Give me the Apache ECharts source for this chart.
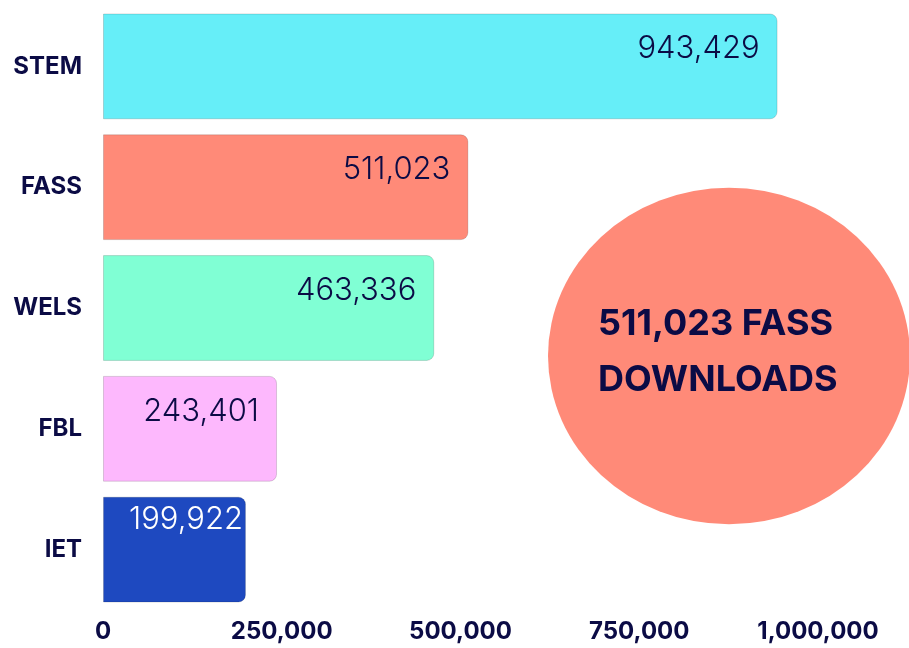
<!DOCTYPE html>
<html>
<head>
<meta charset="utf-8">
<script src="https://cdn.jsdelivr.net/npm/echarts@6/dist/echarts.min.js"></script>
<style>
  html, body { margin: 0; padding: 0; background: #fff; }
  #chart { width: 909px; height: 648px; }
</style>
</head>
<body>
<div id="chart"></div>
<script>
// faculties, top to bottom
var categories = ['STEM', 'FASS', 'WELS', 'FBL', 'IET'];
var downloads = [943429, 511023, 463336, 243401, 199922];
var barColors = ['#66eef8', '#ff8a78', '#80ffd4', '#fdb8fd', '#1e49c0'];
var xTicks = [0, 250000, 500000, 750000, 1000000];

var navy = '#0b0b45';
var fmt = function (v) { return Number(v).toLocaleString('en-US'); };

var chart = echarts.init(document.getElementById('chart'));

// the big callout uses the FASS figure
var hi = categories.indexOf('FASS');

var option = {
    backgroundColor: '#ffffff',
    animation: false,
    grid: { left: 103, right: 91, top: 6, bottom: 38 },
    xAxis: {
        type: 'value',
        min: xTicks[0],
        max: xTicks[xTicks.length - 1],
        interval: xTicks[1] - xTicks[0],
        splitLine: { show: false },
        axisLine: { show: false },
        axisTick: { show: false },
        axisLabel: {
            margin: 10,
            color: navy,
            fontFamily: 'Inter',
            fontWeight: 'bold',
            fontSize: 24,
            formatter: fmt
        }
    },
    yAxis: {
        type: 'category',
        inverse: true,
        data: categories,
        axisLine: { show: false },
        axisTick: { show: false },
        axisLabel: {
            margin: 21,
            color: navy,
            fontFamily: 'Inter',
            fontWeight: 'bold',
            fontSize: 24
        }
    },
    series: [{
        type: 'bar',
        barCategoryGap: '12.4%',
        data: downloads.map(function (v, i) {
            var item = {
                value: v,
                itemStyle: { color: barColors[i] }
            };
            if (i === downloads.length - 1) {
                // dark bar: white label, tucked in tighter
                item.label = { color: '#ffffff', distance: 3, offset: [0, 4] };
            }
            return item;
        }),
        itemStyle: {
            borderRadius: [0, 7, 7, 0],
            borderColor: 'rgba(0,0,0,0.15)',
            borderWidth: 1
        },
        label: {
            show: true,
            position: 'insideTopRight',
            distance: 18,
            offset: [0, 2],
            color: navy,
            fontFamily: 'Inter',
            fontWeight: 300,
            fontSize: 31,
            formatter: function (p) { return fmt(p.value); }
        }
    }],
    graphic: [{
        type: 'circle',
        x: 729,
        y: 356,
        scaleY: 0.93,
        shape: { cx: 0, cy: 0, r: 181 },
        style: { fill: barColors[hi] },
        z: 1
    }, {
        type: 'text',
        left: 598,
        top: 296,
        style: {
            text: fmt(downloads[hi]) + ' ' + categories[hi] + '\nDOWNLOADS',
            fill: navy,
            font: 'bold 36px Inter',
            lineHeight: 56
        },
        z: 2
    }]
};

chart.setOption(option);
</script>
</body>
</html>
